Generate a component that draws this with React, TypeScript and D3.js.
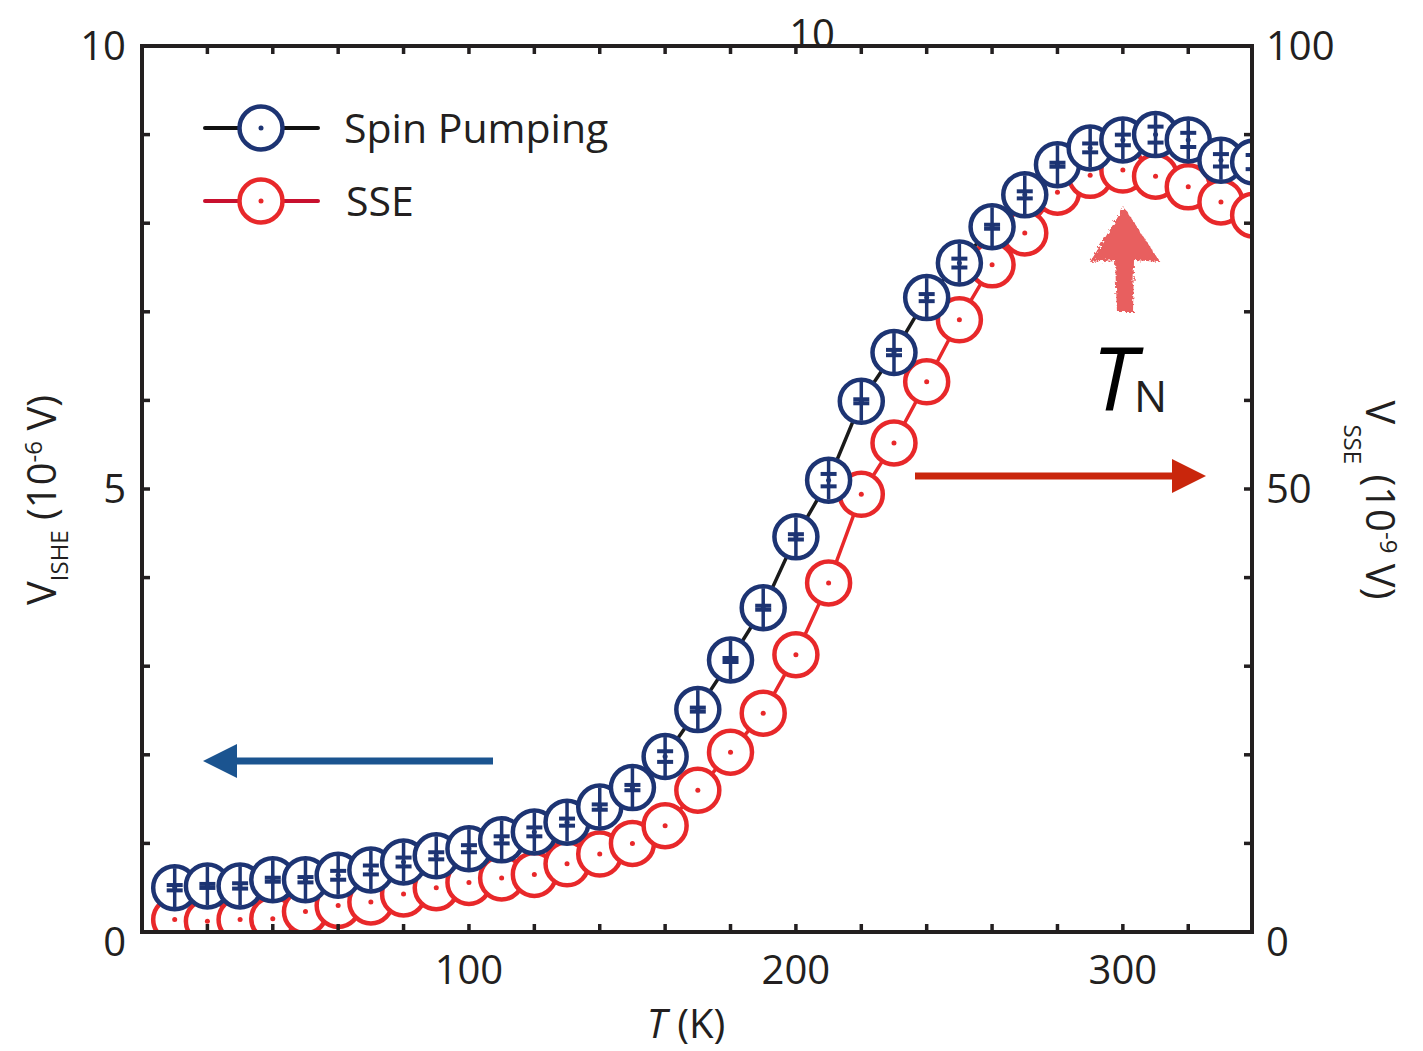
import React from "react";
import * as d3 from "d3";

const temps = [10,20,30,40,50,60,70,80,90,100,110,120,130,140,150,160,170,180,190,200,210,220,230,240,250,260,270,280,290,300,310,320,330,340];
const vIshe = [0.50,0.52,0.52,0.59,0.59,0.64,0.70,0.79,0.86,0.94,1.04,1.13,1.24,1.41,1.63,1.98,2.51,3.07,3.66,4.46,5.10,5.99,6.54,7.16,7.55,7.96,8.32,8.66,8.85,8.94,9.00,8.94,8.71,8.69];
const ishErr = [0.03,0.0,0.03,0.02,0.03,0.05,0.05,0.05,0.04,0.04,0.04,0.05,0.04,0.03,0.03,0.06,0.0,0.0,0.0,0.03,0.07,0.0,0.03,0.04,0.05,0.02,0.04,0.0,0.05,0.06,0.09,0.08,0.07,0.08];
const vSse = [1.4,1.2,1.4,1.5,2.3,3.0,3.4,4.3,5.0,5.6,6.1,6.5,7.7,8.8,10.0,12.0,16.0,20.3,24.7,31.3,39.4,49.4,55.2,62.1,69.1,75.3,78.9,83.5,85.4,86.0,85.3,84.1,82.4,80.9];

const xTicksLabeled = [100, 200, 300];
const xMinorTicks = d3.range(20, 340, 20);
const yLeftTicks = [0, 5, 10];
const yRightTicks = [0, 50, 100];
const yMinorLeft = d3.range(1, 10, 1);

const M = { left: 142, right: 1252, top: 46, bottom: 932 };
const FONT = "'Open Sans', 'Noto Sans', sans-serif";
const BLUE = "#1d3473";
const RED = "#e8282a";
const AX = "#231f20";
const R = 21.5;
const SW = 4.5;

export default function App() {
  const x = d3.scaleLinear().domain([0, 339.5]).range([M.left, M.right]);
  const yL = d3.scaleLinear().domain([0, 10]).range([M.bottom, M.top]);
  const yR = d3.scaleLinear().domain([0, 100]).range([M.bottom, M.top]);

  const lineL = d3.line<number>().x((_, i) => x(temps[i])).y((d) => yL(d));
  const lineR = d3.line<number>().x((_, i) => x(temps[i])).y((d) => yR(d));

  const redPts = vSse.map((v, i) => ({ cx: x(temps[i]), cy: yR(v) }));
  const bluePts = vIshe.map((v, i) => ({ cx: x(temps[i]), cy: yL(v), e: Math.abs(yL(v + ishErr[i]) - yL(v)) }));

  return (
    <svg width={1423} height={1051} style={{ display: "block", position: "absolute", left: 0, top: 0, background: "#fff" }}>
      <defs>
        <clipPath id="plotclip">
          <rect x={M.left} y={M.top - 30} width={M.right - M.left} height={M.bottom - M.top + 30} />
        </clipPath>
        <filter id="chalk" x="-20%" y="-20%" width="140%" height="140%">
          <feTurbulence type="fractalNoise" baseFrequency="0.35" numOctaves="2" seed="3" result="n" />
          <feDisplacementMap in="SourceGraphic" in2="n" scale="6" result="d" />
          <feComponentTransfer in="n" result="n2">
            <feFuncA type="discrete" tableValues="1 1 1 1 1 1 1 0.4" />
          </feComponentTransfer>
          <feComposite in="d" in2="n2" operator="in" />
        </filter>
      </defs>

      {/* data */}
      <g clipPath="url(#plotclip)">
        <path d={lineR(vSse) || ""} fill="none" stroke={RED} strokeWidth={3.5} />
        {redPts.map((p, i) => (
          <g key={"r" + i}>
            <circle cx={p.cx} cy={p.cy} r={R} fill="#fff" stroke={RED} strokeWidth={SW} />
            <circle cx={p.cx} cy={p.cy} r={2.5} fill={RED} />
          </g>
        ))}
        <path d={lineL(vIshe) || ""} fill="none" stroke="#1a1a1a" strokeWidth={3.5} />
        {bluePts.map((p, i) => (
          <g key={"b" + i}>
            <circle cx={p.cx} cy={p.cy} r={R} fill="#fff" stroke={BLUE} strokeWidth={SW} />
            <line x1={p.cx} x2={p.cx} y1={p.cy - R + 2} y2={p.cy + R - 2} stroke={BLUE} strokeWidth={3.5} />
            <line x1={p.cx - 8} x2={p.cx + 8} y1={p.cy - Math.max(p.e, 2)} y2={p.cy - Math.max(p.e, 2)} stroke={BLUE} strokeWidth={4} />
            <line x1={p.cx - 8} x2={p.cx + 8} y1={p.cy + Math.max(p.e, 2)} y2={p.cy + Math.max(p.e, 2)} stroke={BLUE} strokeWidth={4} />
            <circle cx={p.cx} cy={p.cy} r={2.5} fill={BLUE} />
          </g>
        ))}
      </g>

      {/* frame */}
      <rect x={M.left} y={M.top} width={M.right - M.left} height={M.bottom - M.top} fill="none" stroke={AX} strokeWidth={4} />

      {/* ticks */}
      {xMinorTicks.map((t) => (
        <g key={"xt" + t}>
          <line x1={x(t)} x2={x(t)} y1={M.bottom} y2={M.bottom - 8} stroke={AX} strokeWidth={3.5} />
          <line x1={x(t)} x2={x(t)} y1={M.top} y2={M.top + 8} stroke={AX} strokeWidth={3.5} />
        </g>
      ))}
      {yMinorLeft.map((t) => (
        <g key={"yt" + t}>
          <line x1={M.left} x2={M.left + 8} y1={yL(t)} y2={yL(t)} stroke={AX} strokeWidth={3.5} />
          <line x1={M.right} x2={M.right - 8} y1={yL(t)} y2={yL(t)} stroke={AX} strokeWidth={3.5} />
        </g>
      ))}

      {/* tick labels */}
      <g fontFamily={FONT} fontSize={40} fill={AX}>
        {xTicksLabeled.map((t) => (
          <text key={"xl" + t} x={x(t)} y={984} textAnchor="middle">{t}</text>
        ))}
        {yLeftTicks.map((t) => (
          <text key={"yl" + t} x={126} y={yL(t) + 14 + (t === 0 ? 10 : 0)} textAnchor="end">{t}</text>
        ))}
        {yRightTicks.map((t) => (
          <text key={"yr" + t} x={1266} y={yR(t) + 14 + (t === 0 ? 10 : 0)} textAnchor="start">{t}</text>
        ))}
        <text x={812} y={48} textAnchor="middle">10</text>
      </g>

      {/* axis titles */}
      <text x={686} y={1038} textAnchor="middle" fontFamily={FONT} fontSize={40} fill={AX}>
        <tspan fontStyle="italic">T</tspan>
        <tspan> (K)</tspan>
      </text>
      <text transform="translate(56,500) rotate(-90)" textAnchor="middle" fontFamily={FONT} fontSize={40} fill={AX}>
        <tspan>V</tspan>
        <tspan fontSize={24} dy={12}>ISHE</tspan>
        <tspan dy={-12}> (10</tspan>
        <tspan fontSize={24} dy={-14}>-6</tspan>
        <tspan dy={14}> V)</tspan>
      </text>
      <text transform="translate(1366,500) rotate(90)" textAnchor="middle" fontFamily={FONT} fontSize={40} fill={AX}>
        <tspan>V</tspan>
        <tspan fontSize={24} dy={22}>SSE</tspan>
        <tspan dy={-22}> (10</tspan>
        <tspan fontSize={24} dy={-14}>-9</tspan>
        <tspan dy={14}> V)</tspan>
      </text>

      {/* legend */}
      <g>
        <line x1={205} x2={240} y1={128} y2={128} stroke="#111" strokeWidth={4} strokeLinecap="round" />
        <line x1={282} x2={318} y1={128} y2={128} stroke="#111" strokeWidth={4} strokeLinecap="round" />
        <circle cx={261} cy={128} r={R} fill="#fff" stroke={BLUE} strokeWidth={SW} />
        <circle cx={261} cy={128} r={2.5} fill={BLUE} />
        <line x1={205} x2={240} y1={201} y2={201} stroke="#c8102e" strokeWidth={4} strokeLinecap="round" />
        <line x1={282} x2={318} y1={201} y2={201} stroke="#c8102e" strokeWidth={4} strokeLinecap="round" />
        <circle cx={261} cy={201} r={R} fill="#fff" stroke={RED} strokeWidth={SW} />
        <circle cx={261} cy={201} r={2.5} fill={RED} />
        <text x={344} y={143} fontFamily={FONT} fontSize={41} fill={AX}>Spin Pumping</text>
        <text x={346} y={216} fontFamily={FONT} fontSize={41} fill={AX}>SSE</text>
      </g>

      {/* arrows */}
      <line x1={493} x2={232} y1={761} y2={761} stroke="#1b5490" strokeWidth={7} />
      <polygon points="203,761 237,744 237,778" fill="#1b5490" />
      <line x1={915} x2={1175} y1={476} y2={476} stroke="#c9260c" strokeWidth={7} />
      <polygon points="1206,476 1172,459 1172,493" fill="#c9260c" />

      <g filter="url(#chalk)" fill="#e85e5e">
        <polygon points="1124,207 1160,262 1134,260 1133,312 1117,312 1115,260 1090,262" />
      </g>
      <text x={1092} y={410} fontFamily={FONT} fontSize={88} fontStyle="italic" fill="#000">T</text>
      <text x={1134} y={412} fontFamily={FONT} fontSize={44} fill={AX}>N</text>
    </svg>
  );
}
